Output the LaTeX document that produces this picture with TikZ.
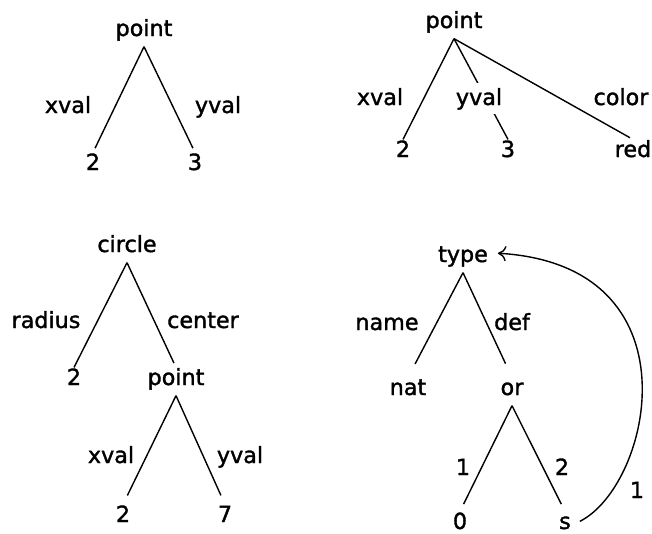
\documentclass[tikz,border=0pt]{standalone}
\usepackage{fontspec}
\setmainfont[UprightFeatures={FakeBold=1.5}]{DejaVu Sans}
\usetikzlibrary{arrows.meta}
\tikzset{tnode/.style={anchor=base, inner sep=0pt, text height=14.4pt, text depth=8.5pt, font=\fontsize{19}{22}\selectfont},
lbl/.style={anchor=base, inner sep=0pt, font=\fontsize{19}{22}\selectfont},
short/.style={shorten >=#1}}

\begin{document}
\begin{tikzpicture}[x=0.03cm,y=-0.03cm,line width=1.2pt]
\useasboundingbox (0,0) rectangle (652,533);
% point with two fields
\node[tnode] (pta) at (144,36) {point};
\node[tnode] (xa) at (93,170) {2};
\node[tnode] (ya) at (195,170) {3};
\draw[short=4pt] (pta.south)--(xa.north);
\draw[short=4pt] (pta.south)--(ya.north);
\node[lbl] (xla) at (68,113) {xval};
\node[lbl] (yla) at (218,113) {yval};
% point with color
\node[tnode] (ptb) at (454,28) {point};
\node[tnode] (xb) at (403,157) {2};
\node[tnode] (yb) at (508,157) {3};
\node[tnode] (cb) at (633,157) {red};
\draw (ptb.south)--(xb.north);
\draw (ptb.south)--(yb.north);
\draw[short=3pt] (ptb.south)--(cb.north);
\node[lbl] (xlb) at (380,105) {xval};
\node[lbl,fill=white,inner sep=4pt] (ylb) at (479,105) {yval};
\node[lbl] (clb) at (621,105) {color};
% circle
\node[tnode] (cc) at (127,252) {circle};
\node[tnode] (rc) at (74,385) {2};
\node[tnode] (ptc) at (176,385) {point};
\node[tnode] (xc) at (123,522) {2};
\node[tnode] (yc) at (225,522) {7};
\draw (cc.south)--(rc.north);
\draw[short=4pt] (cc.south)--(ptc.north);
\draw[short=8.5pt] (ptc.south)--(xc.north);
\draw[short=8.5pt] (ptc.south)--(yc.north);
\node[lbl] (rlc) at (46,328) {radius};
\node[lbl] (clc) at (203,328) {center};
\node[lbl] (xlc) at (111,463) {xval};
\node[lbl] (ylc) at (240,463) {yval};
% recursive type
\node[tnode] (ty) at (463,262) {type};
\node[tnode] (nt) at (408,395) {nat};
\node[tnode] (or) at (512,395) {or};
\node[tnode] (zr) at (460,529) {0};
\node[tnode] (sc) at (565,529) {s};
\draw[short=13pt] (ty.south)--(nt.north);
\draw[short=13pt] (ty.south)--(or.north);
\draw[short=7pt] (or.south)--(zr.north);
\draw[short=7pt] (or.south)--(sc.north);
\draw[-{To[length=7pt,width=13pt]},shorten <=8pt,shorten >=8pt] (sc.east) .. controls (652,485) and (700,265) .. ([yshift=5pt]ty.east);
\node[lbl] (nl) at (387,330) {name};
\node[lbl] (dl) at (512,330) {def};
\node[lbl] (ol) at (463,475) {1};
\node[lbl] (tl) at (562,475) {2};
\node[lbl] (al) at (637,498) {1};
\end{tikzpicture}
\end{document}
